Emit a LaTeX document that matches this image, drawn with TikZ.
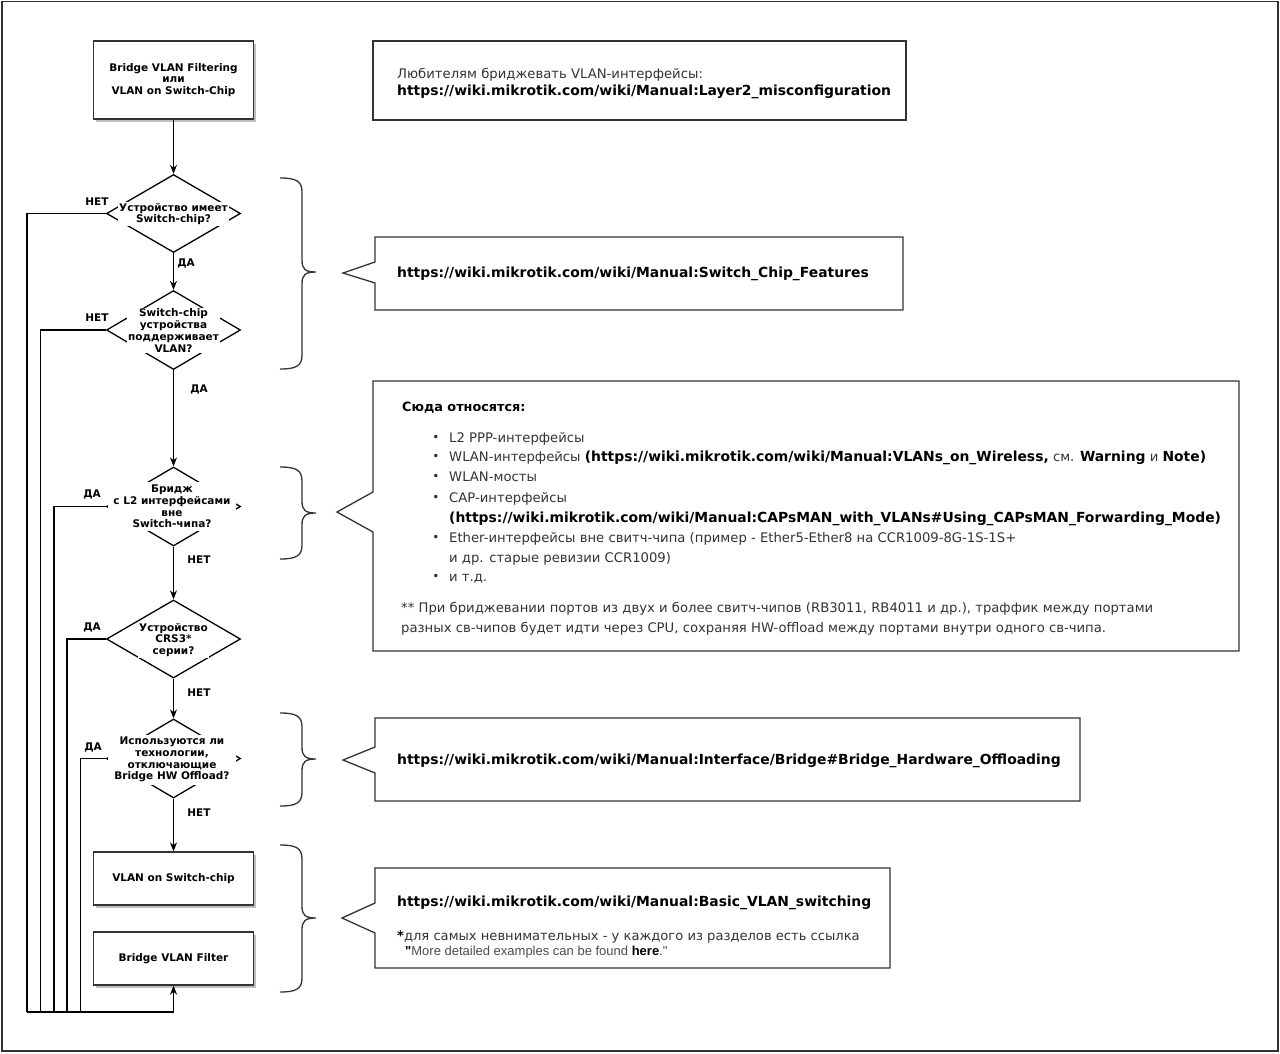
\documentclass[tikz,border=0pt]{standalone}
\usepackage{fontspec}
\setmainfont{DejaVu Sans}
\newfontfamily\arialfont{Liberation Sans}
\usetikzlibrary{shapes.geometric,arrows.meta,shadows}
\definecolor{txt}{HTML}{333333}
\definecolor{edge}{HTML}{333333}
\tikzset{
 conn/.style={line width=1.3pt, draw=black},
 arr/.style={conn, -{Stealth[length=9pt,width=7pt]}},
 fbox/.style={draw=edge, line width=1.3pt, fill=white, minimum width=160, inner sep=0pt, align=center,
   font=\fontsize{10.5}{11.7}\selectfont\bfseries,
   drop shadow={shadow xshift=2.5pt, shadow yshift=-2.5pt, opacity=0.25, fill=black}},
 dia/.style={diamond, draw=black, line width=1.3pt, fill=white, minimum width=134, inner sep=0pt},
 dtext/.style={fill=white, inner sep=1pt, align=center, font=\fontsize{10.5}{11.7}\selectfont\bfseries},
 lbl/.style={font=\fontsize{10.5}{12}\selectfont\bfseries, inner sep=0pt},
 bracestyle/.style={line width=1.3pt, draw=edge},
 callout/.style={line width=1.3pt, draw=edge, fill=white},
 rtext/.style={anchor=base west, inner sep=0pt, font=\fontsize{13.2}{15}\selectfont, text=txt},
 bul/.style={inner sep=0pt, font=\fontsize{12}{12}\selectfont, text=txt},
}
\newcommand{\mybrace}[3]{\draw[bracestyle] (280,#1) .. controls (296,#1) and (302,#1+3) .. (302,#1+14) -- (302,#2-12) .. controls (302,#2-3) and (305,#2) .. (316,#2) .. controls (305,#2) and (302,#2+3) .. (302,#2+12) -- (302,#3-14) .. controls (302,#3-3) and (296,#3) .. (280,#3);}
\newcommand{\B}[1]{{\fontsize{13.9}{15}\selectfont\bfseries\color{black}#1}}
\newcommand{\Bs}[1]{{\bfseries\color{black}#1}}
\begin{document}
\begin{tikzpicture}[x=1pt,y=-1pt]
\useasboundingbox (0,0) rectangle (1280,1053);
\draw[line width=1.3pt, draw=edge] (2,1.5) rectangle (1278,1051);

% flowchart nodes
\node[fbox, minimum height=78] (b1) at (173.5,80) {Bridge VLAN Filtering\\или\\VLAN on Switch-Chip};
\node[fbox, minimum height=53] (b2) at (173.5,878.5) {VLAN on Switch-chip};
\node[fbox, minimum height=53] (b3) at (173.5,958.5) {Bridge VLAN Filter};

\coordinate (c1) at (27,1012);
\coordinate (c2) at (40.5,1012);
\coordinate (c3) at (54,1012);
\coordinate (c4) at (67,1012);
\coordinate (c5) at (80.5,1012);
\coordinate (bl) at (173.5,1012);

\node[dia, minimum height=78] (d1) at (173.5,213.5) {};
\node[dia, minimum height=79] (d2) at (173.5,330) {};
\node[dia, minimum height=79] (d3) at (173.5,506.5) {};
\node[dia, minimum height=78] (d4) at (173.5,639) {};
\node[dia, minimum height=79] (d5) at (173.5,758.5) {};

% connectors
\draw[conn] (d1.west) -| (c1);
\draw[conn] (d2.west) -| (c2);
\draw[conn] (d3.west) -| (c3);
\draw[conn] (d4.west) -| (c4);
\draw[conn] (d5.west) -| (c5);
\draw[conn] (c1) -- (bl);
\draw[arr] (bl) -- (b3.south);
\draw[arr] (b1.south) -- (d1.north);
\draw[arr] (d1.south) -- (d2.north);
\draw[arr] (d2.south) -- (d3.north);
\draw[arr] (d3.south) -- (d4.north);
\draw[arr] (d4.south) -- (d5.north);
\draw[arr] (d5.south) -- (b2.north);

\node[dtext] (t1) at (173.5,214) {Устройство имеет\\Switch-chip?};
\node[dtext] (t2) at (173.5,330.5) {Switch-chip\\устройства\\поддерживает\\VLAN?};
\node[dtext, minimum width=128, minimum height=49] (t3) at (172,506.5) {Бридж\\с L2 интерфейсами\\вне\\Switch-чипа?};
\node[dtext] (t4) at (173.5,640) {Устройство\\CRS3*\\серии?};
\node[dtext, minimum width=128, minimum height=50] (t5) at (172,759.5) {Используются ли\\технологии,\\отключающие\\Bridge HW Offload?};

% labels
\node[lbl] (l1) at (97,202) {НЕТ};
\node[lbl] (l2) at (186,263) {ДА};
\node[lbl] (l3) at (97,318) {НЕТ};
\node[lbl] (l4) at (199,389) {ДА};
\node[lbl] (l5) at (92,494) {ДА};
\node[lbl] (l6) at (199,560) {НЕТ};
\node[lbl] (l7) at (92,627) {ДА};
\node[lbl] (l8) at (199,693) {НЕТ};
\node[lbl] (l9) at (93,747) {ДА};
\node[lbl] (l10) at (199,813) {НЕТ};

% braces
\mybrace{178}{272}{369}
\mybrace{467}{513}{559}
\mybrace{713}{759}{806}
\mybrace{845}{918}{992}

% callouts
\draw[callout] (373,41) rectangle (906,120);
\draw[callout] (375,237) -- (903,237) -- (903,310) -- (375,310) -- (375,283) -- (343,273) -- (375,262) -- cycle;
\draw[callout] (373,381) -- (1239,381) -- (1239,651) -- (373,651) -- (373,532) -- (337,512) -- (373,492) -- cycle;
\draw[callout] (375,718) -- (1080,718) -- (1080,801) -- (375,801) -- (375,773) -- (343,760) -- (375,747) -- cycle;
\draw[callout] (375,868) -- (890,868) -- (890,968) -- (375,968) -- (375,933) -- (342,918) -- (375,903) -- cycle;

% callout texts
\node[rtext] (k1a) at (397,78.5) {Любителям бриджевать VLAN-интерфейсы:};
\node[rtext] (k1b) at (397,95) {\B{https://wiki.mikrotik.com/wiki/Manual:Layer2\_misconfiguration}};

\node[rtext] (k2) at (397,277) {\B{https://wiki.mikrotik.com/wiki/Manual:Switch\_Chip\_Features}};

\node[rtext, font=\fontsize{12.8}{15}\selectfont] (k3t) at (402,411) {\Bs{Сюда относятся:}};
\node[bul] (u1) at (436,438) {•};
\node[bul] (u2) at (436,457) {•};
\node[bul] (u3) at (436,477) {•};
\node[bul] (u4) at (436,498) {•};
\node[bul] (u5) at (436,538) {•};
\node[bul] (u6) at (436,577) {•};
\node[rtext] (k3a) at (449,442.5) {L2 PPP-интерфейсы};
\node[rtext] (k3b) at (449,461.5) {WLAN-интерфейсы \B{(https://wiki.mikrotik.com/wiki/Manual:VLANs\_on\_Wireless,} см. \B{Warning} и \B{Note)}};
\node[rtext] (k3c) at (449,481.5) {WLAN-мосты};
\node[rtext] (k3d) at (449,502.5) {CAP-интерфейсы};
\node[rtext] (k3e) at (449,522.5) {\B{(https://wiki.mikrotik.com/wiki/Manual:CAPsMAN\_with\_VLANs\#Using\_CAPsMAN\_Forwarding\_Mode)}};
\node[rtext] (k3f) at (449,542.5) {Ether-интерфейсы вне свитч-чипа (пример - Ether5-Ether8 на CCR1009-8G-1S-1S+};
\node[rtext] (k3g) at (449,562.5) {и др. старые ревизии CCR1009)};
\node[rtext] (k3h) at (449,581.5) {и т.д.};
\node[rtext] (k3i) at (401,612.5) {** При бриджевании портов из двух и более свитч-чипов (RB3011, RB4011 и др.), траффик между портами};
\node[rtext] (k3j) at (401,632.5) {разных св-чипов будет идти через CPU, сохраняя HW-offload между портами внутри одного св-чипа.};

\node[rtext] (k4) at (397,764.5) {\B{https://wiki.mikrotik.com/wiki/Manual:Interface/Bridge\#Bridge\_Hardware\_Offloading}};

\node[rtext] (k5a) at (397,906.5) {\B{https://wiki.mikrotik.com/wiki/Manual:Basic\_VLAN\_switching}};
\node[rtext, font=\fontsize{13.1}{15}\selectfont] (k5b) at (397,940) {\Bs{*}для самых невнимательных - у каждого из разделов есть ссылка};
\node[rtext, font=\arialfont\fontsize{13}{14}\selectfont, text=black!70] (k5c) at (405,955) {\Bs{"}More detailed examples can be found \Bs{here}."};
\end{tikzpicture}
\end{document}
